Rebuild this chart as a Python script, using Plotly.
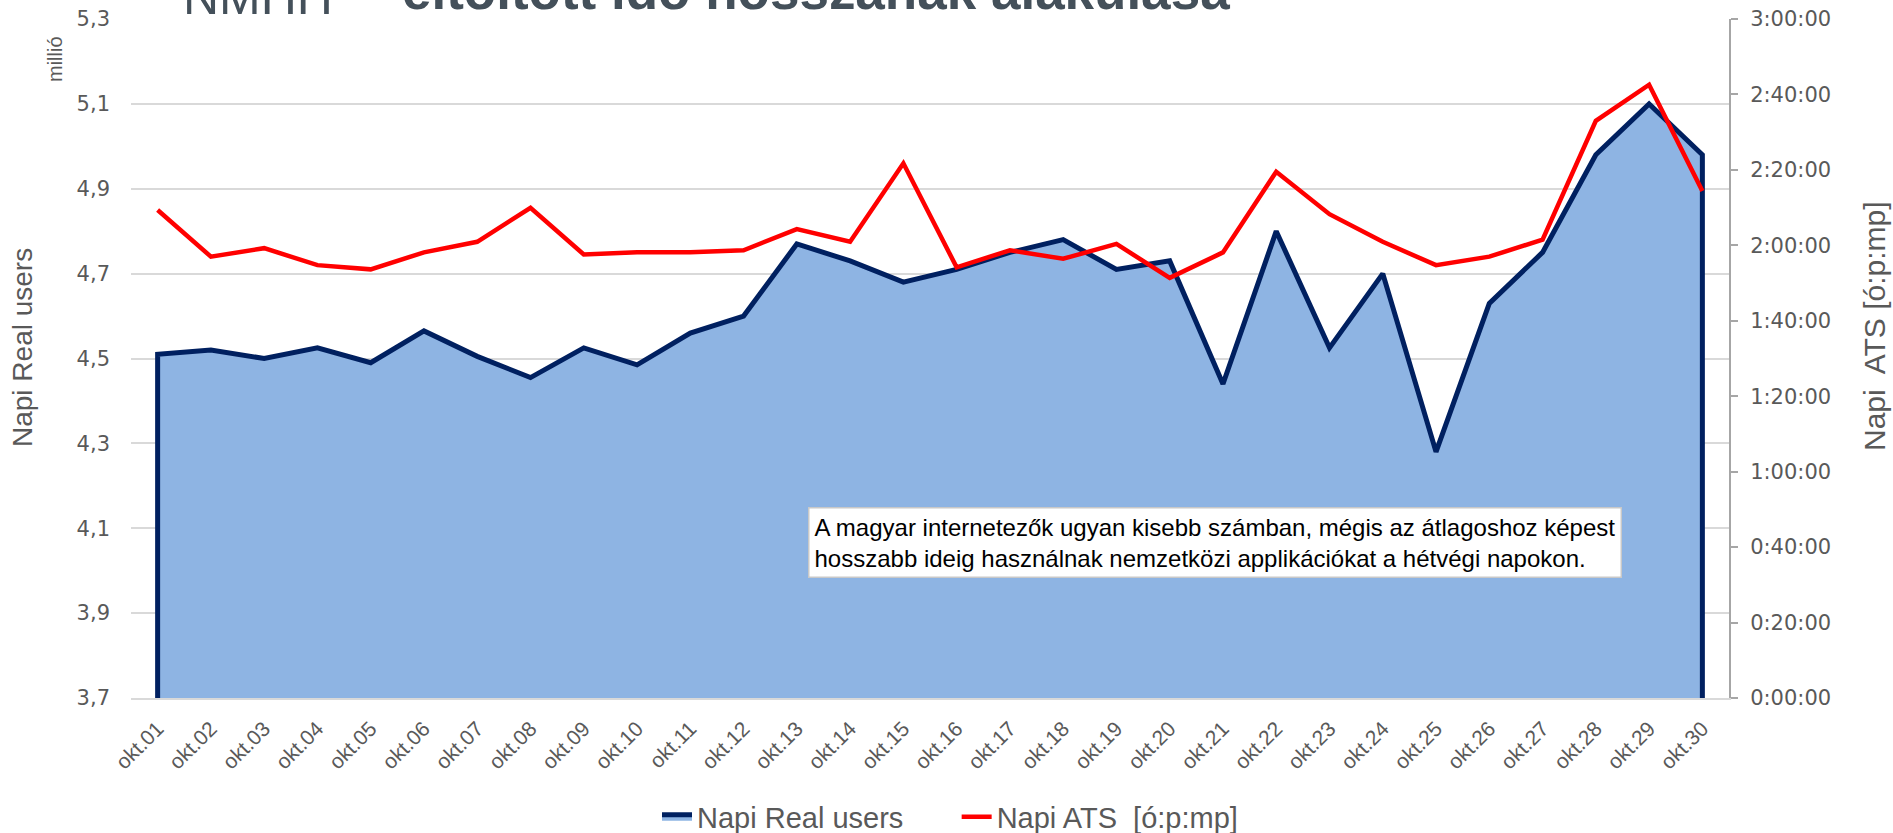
import plotly.graph_objects as go

# ---------------- data ----------------
days = ["okt.%02d" % d for d in range(1, 31)]
real_users = [4.51, 4.52, 4.50, 4.525, 4.49, 4.565, 4.505, 4.455, 4.525, 4.485,
              4.56, 4.60, 4.77, 4.73, 4.68, 4.71, 4.75, 4.78, 4.71, 4.73,
              4.44, 4.80, 4.525, 4.70, 4.28, 4.63, 4.75, 4.98, 5.10, 4.98]
ats_time = ["2:09:22", "1:57:00", "1:59:15", "1:54:45", "1:53:38", "1:58:08",
            "2:00:56", "2:09:56", "1:57:34", "1:58:08", "1:58:08", "1:58:41",
            "2:04:19", "2:00:56", "2:21:45", "1:54:11", "1:58:41", "1:56:26",
            "2:00:22", "1:51:22", "1:58:08", "2:19:30", "2:08:15", "2:00:56",
            "1:54:45", "1:57:00", "2:01:30", "2:33:00", "2:42:34", "2:14:26"]
left_ticks = [3.7, 3.9, 4.1, 4.3, 4.5, 4.7, 4.9, 5.1, 5.3]
left_tick_text = ["3,7", "3,9", "4,1", "4,3", "4,5", "4,7", "4,9", "5,1", "5,3"]
right_tick_text = ["0:00:00", "0:20:00", "0:40:00", "1:00:00", "1:20:00", "1:40:00",
                   "2:00:00", "2:20:00", "2:40:00", "3:00:00"]
Y_MIN, Y_MAX = 3.7, 5.3


def to_sec(s):
    h, m, sec = (int(p) for p in s.split(":"))
    return h * 3600 + m * 60 + sec


ats_sec = [to_sec(s) for s in ats_time]
right_ticks = [to_sec(s) for s in right_tick_text]

# ---------------- layout geometry (pixels) ----------------
W, H = 1893, 833
L, R, T, B = 131, 1729, 19, 698


def px(x):
    return (x - L) / (R - L)


def py(y):
    return (B - y) / (B - T)


GRAY = "#595959"
NARROW = "Liberation Sans Narrow, Arial Narrow, Liberation Sans, Arial"
SANS = "Liberation Sans, Arial"
TICKFONT = "DejaVu Sans, Liberation Sans, Arial"

fig = go.Figure()

# area polygon closed down to the axis minimum
fig.add_trace(go.Scatter(
    x=[days[0]] + days + [days[-1]],
    y=[Y_MIN] + real_users + [Y_MIN],
    name="Napi Real users\u00a0\u00a0\u00a0\u00a0\u00a0\u00a0",
    mode="lines",
    fill="toself",
    fillcolor="#8eb4e3",
    line=dict(color="#002060", width=5, shape="linear"),
    yaxis="y",
    showlegend=True,
))

fig.add_trace(go.Scatter(
    x=days,
    y=ats_sec,
    name="Napi ATS\u00a0 [ó:p:mp]",
    mode="lines",
    line=dict(color="#ff0000", width=4.5),
    yaxis="y2",
))

fig.update_layout(
    width=W, height=H,
    margin=dict(l=L, r=W - R, t=T, b=H - B, pad=0, autoexpand=False),
    paper_bgcolor="white",
    plot_bgcolor="white",
    font=dict(family=SANS, color=GRAY),
    xaxis=dict(
        type="category",
        range=[-0.5, len(days) - 0.5],
        showgrid=False,
        showline=True, linecolor="#d9d9d9", linewidth=2,
        ticks="",
        tickangle=-45,
        tickfont=dict(family=SANS, size=21, color=GRAY),
        ticklabelstandoff=8,
        zeroline=False,
    ),
    yaxis=dict(
        range=[Y_MIN, Y_MAX],
        tickvals=left_ticks, ticktext=left_tick_text,
        showgrid=True, gridcolor="#d9d9d9", gridwidth=2,
        showline=False, zeroline=False, ticks="",
        tickfont=dict(family=TICKFONT, size=21, color=GRAY),
        ticklabelstandoff=20,
    ),
    yaxis2=dict(
        overlaying="y", side="right",
        range=[0, right_ticks[-1]],
        tickvals=right_ticks, ticktext=right_tick_text,
        showgrid=False, zeroline=False,
        showline=True, linecolor="#a6a6a6", linewidth=2,
        ticks="outside", ticklen=7, tickwidth=2, tickcolor="#a6a6a6",
        tickfont=dict(family=TICKFONT, size=21, color=GRAY),
        ticklabelstandoff=8,
    ),
    legend=dict(
        orientation="h",
        x=px(950), xanchor="center",
        y=py(817), yanchor="middle",
        font=dict(family=NARROW, size=29, color=GRAY),
        itemwidth=30,
        bgcolor="rgba(0,0,0,0)",
    ),
    showlegend=True,
)

annotations = [
    dict(text="<b>eltöltött idő hosszának alakulása</b>", x=px(400), y=py(22),
         xanchor="left", yanchor="bottom", showarrow=False,
         font=dict(family=SANS, size=53, color="#44505a")),
    dict(text="NMHH", x=px(181), y=py(27),
         xanchor="left", yanchor="bottom", showarrow=False,
         font=dict(family=SANS, size=50, color="#44505a")),
    dict(text="millió", x=px(55), y=py(59), textangle=-90,
         xanchor="center", yanchor="middle", showarrow=False,
         font=dict(family=NARROW, size=20, color=GRAY)),
    dict(text="Napi Real users", x=px(22), y=py(348), textangle=-90,
         xanchor="center", yanchor="middle", showarrow=False,
         font=dict(family=NARROW, size=28, color=GRAY)),
    dict(text="Napi\u00a0 ATS [ó:p:mp]", x=px(1875), y=py(326), textangle=-90,
         xanchor="center", yanchor="middle", showarrow=False,
         font=dict(family=NARROW, size=30, color=GRAY)),
    dict(text="A magyar internetezők ugyan kisebb számban, mégis az átlagoshoz képest<br>"
              "hosszabb ideig használnak nemzetközi applikációkat a hétvégi napokon.",
         x=px(808), y=py(507), xanchor="left", yanchor="top", showarrow=False,
         align="left", bgcolor="white", bordercolor="#c8c8c8", borderwidth=1.5,
         borderpad=5,
         font=dict(family=SANS, size=24, color="black")),
]
for a in annotations:
    a.setdefault("xref", "paper")
    a.setdefault("yref", "paper")
fig.update_layout(annotations=annotations)

fig.write_html("out.html", config={"displayModeBar": False},
               post_script="document.body.style.margin='0';")
